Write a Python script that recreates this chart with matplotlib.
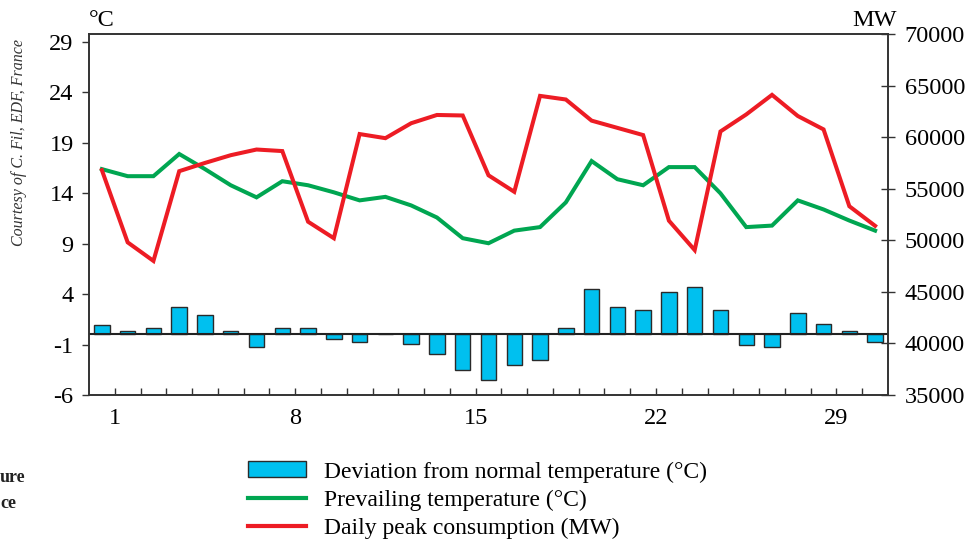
import matplotlib
matplotlib.use("Agg")
import matplotlib.pyplot as plt
from matplotlib.patches import Patch
from matplotlib.lines import Line2D

plt.rcParams['font.family'] = ['Liberation Serif', 'DejaVu Serif']

days = list(range(1, 32))
deviation = [0.9, 0.35, 0.6, 2.7, 1.95, 0.35, -1.2, 0.6, 0.6, -0.45, -0.7, 0.0,
             -0.95, -1.95, -3.5, -4.55, -3.05, -2.55, 0.6, 4.5, 2.7, 2.4, 4.2,
             4.7, 2.4, -1.0, -1.25, 2.1, 1.0, 0.3, -0.7]
prevailing = [16.4, 15.7, 15.7, 17.9, 16.4, 14.8, 13.6, 15.2, 14.8, 14.1, 13.3,
              13.65, 12.8, 11.6, 9.55, 9.05, 10.3, 10.65, 13.1, 17.2, 15.4, 14.8,
              16.6, 16.6, 14.0, 10.65, 10.8, 13.3, 12.4, 11.3, 10.3]
peak = [56800, 49800, 48000, 56700, 57500, 58250, 58800, 58650, 51800, 50200,
        60300, 59900, 61350, 62150, 62100, 56300, 54700, 64000, 63650, 61600,
        60900, 60200, 51900, 49050, 60550, 62200, 64100, 62050, 60750, 53300,
        51400]

temp_ticks = [-6, -1, 4, 9, 14, 19, 24, 29]
mw_ticks = [35000, 40000, 45000, 50000, 55000, 60000, 65000, 70000]
day_labels = [1, 8, 15, 22, 29]

BAR_COLOR = '#00c0ef'
GREEN = '#00a651'
RED = '#ed1c24'

fig = plt.figure(figsize=(9.78, 5.40), dpi=100)
ax = fig.add_axes([89 / 978, 1 - 395 / 540, (888 - 89) / 978, (395 - 34) / 540])
ax2 = ax.twinx()

x = [d - 0.5 for d in days]
ax.bar(x, deviation, width=0.6, color=BAR_COLOR, edgecolor='#2a2a2a',
       linewidth=1.0, zorder=2)
ax.axhline(0, color='#222222', linewidth=1.5, zorder=3)
ax.plot(x, prevailing, color=GREEN, linewidth=2.9, solid_joinstyle='miter', zorder=4)
ax2.plot(x, peak, color=RED, linewidth=2.9, solid_joinstyle='miter', zorder=4)

ax.set_xlim(0, 31)
ax.set_ylim(-6, 29.8)
ax2.set_ylim(35000, 70000)

ax.set_yticks(temp_ticks)
ax.set_yticklabels([str(t) for t in temp_ticks])
ax2.set_yticks(mw_ticks)
ax2.set_yticklabels([str(t) for t in mw_ticks])

ax.set_xticks(list(range(1, 31)))
ax.set_xticklabels([str(d) if d in day_labels else '' for d in range(1, 31)])

ax.tick_params(axis='x', direction='in', length=5, width=1, pad=9,
               labelsize=17.5, color='#333333')
ax.tick_params(axis='y', direction='out', length=5, width=1, pad=6,
               labelsize=17.5, color='#333333')
ax2.tick_params(axis='y', direction='inout', length=10, width=1, pad=7,
                labelsize=17.5, color='#333333')

for a in (ax, ax2):
    for s in a.spines.values():
        s.set_color('#333333')
        s.set_linewidth(1.2)

fig.text(89 / 978, 1 - 20 / 540, '°C', fontsize=17.5, ha='left', va='center')
fig.text(897 / 978, 1 - 21 / 540, 'MW', fontsize=17.5, ha='right', va='center')

fig.text(19 / 978, 1 - 142 / 540, 'Courtesy of C. Fil, EDF, France',
         fontsize=11.5, style='italic', rotation=90, ha='center', va='center',
         color='#333333')

fig.text(0, 1 - 477 / 540, 'ure', fontsize=13, fontweight='bold', ha='left',
         va='center', color='#222222')
fig.text(0, 1 - 503 / 540, 'ce', fontsize=13, fontweight='bold', ha='left',
         va='center', color='#222222')

handles = [
    Patch(facecolor=BAR_COLOR, edgecolor='#2a2a2a', linewidth=1.0),
    Line2D([0], [0], color=GREEN, linewidth=3),
    Line2D([0], [0], color=RED, linewidth=3),
]
labels = ['Deviation from normal temperature (°C)',
          'Prevailing temperature (°C)',
          'Daily peak consumption (MW)']
fig.legend(handles, labels, loc='upper left',
           bbox_to_anchor=(239 / 978, 1 - 452 / 540), frameon=False,
           fontsize=17, handlelength=2.45, handleheight=0.65,
           handletextpad=0.75, labelspacing=0.3, borderaxespad=0)

fig.savefig('out.png', dpi=100)
